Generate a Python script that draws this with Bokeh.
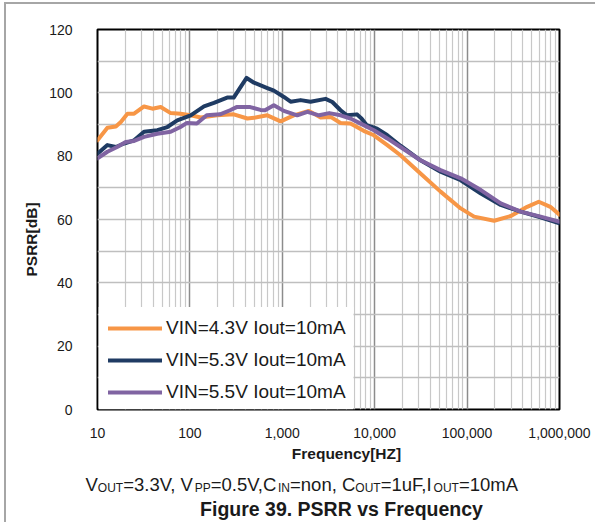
from bokeh.plotting import figure
from bokeh.models import Range1d, FixedTicker, Title, BoxAnnotation, InlineStyleSheet
from bokeh.layouts import column
from bokeh.core.properties import value
from bokeh.embed import file_html
from bokeh.resources import INLINE

# ---------------- data ----------------
f_43 = [10, 12.8, 15.8, 17.9, 21.1, 24.9, 31.9, 39.3, 48.3, 62, 79, 102, 131, 197,
        298, 419, 494, 688, 960, 1330, 1940, 2600, 3330, 4270, 5470, 7600, 9800,
        13700, 19000, 31300, 51600, 85300, 119000, 196000, 297000, 447000, 596000,
        796000, 1000000]
v_43 = [85.0, 89.0, 89.4, 90.8, 93.4, 93.4, 95.7, 95.0, 95.5, 93.6, 93.4, 92.9, 92.2, 92.9,
        93.2, 91.9, 92.1, 92.9, 91.0, 92.9, 94.3, 92.2, 92.4, 90.5, 90.3, 88.0, 86.6,
        83.5, 80.3, 74.5, 68.8, 63.5, 60.9, 59.6, 61.1, 64.0, 65.6,
        64.0, 61.5]

f_53 = [10, 12.8, 15.8, 19.4, 24.9, 31.9, 44.4, 57, 73, 102, 142, 182, 253, 298, 353,
        411, 494, 688, 810, 1040, 1230, 1580, 2020, 2940, 3480, 4270, 5000, 6400,
        7200, 8200, 10600, 13700, 19000, 31300, 51600, 85300, 141000, 231000,
        380000, 624000, 1000000]
v_53 = [80.8, 83.5, 82.9, 84.0, 85.0, 87.7, 88.2, 89.2, 91.3, 92.9, 95.7, 96.8, 98.5, 98.5, 101.8,
        104.7, 103.2, 101.5, 100.7, 98.7, 97.2, 97.7, 97.2, 98.1, 97.1, 94.5, 92.9, 93.2,
        91.9, 89.8, 88.7, 86.6, 83.3, 78.7, 75.1, 72.4, 68.2, 64.6,
        62.5, 60.7, 58.8]

f_55 = [10, 12.8, 16.3, 20.2, 24.9, 31.9, 44.4, 62, 79, 93, 119, 152, 212, 272, 320,
        450, 580, 650, 810, 1040, 1450, 1870, 2500, 3220, 4270, 5470, 7600, 9800,
        13700, 19000, 31300, 51600, 85300, 141000, 231000, 380000, 624000, 1000000]
v_55 = [79.3, 81.4, 82.9, 84.5, 84.8, 86.1, 87.1, 87.7, 89.2, 90.5, 90.3, 92.9, 93.2, 94.5, 95.5,
        95.5, 94.6, 94.5, 96.1, 94.3, 92.9, 94.0, 92.9, 93.6, 92.9, 91.9, 89.8, 88.2,
        85.6, 82.9, 78.7, 75.6, 73.0, 69.3, 65.1, 62.5, 60.9, 59.3]

series_names = ["VIN=4.3V Iout=10mA", "VIN=5.3V Iout=10mA", "VIN=5.5V Iout=10mA"]
series_colors = ["#F79646", "#1F3B63", "#8064A2"]

x_ticks = [10, 100, 1000, 10000, 100000, 1000000]
x_tick_labels = ["10", "100", "1,000", "10,000", "100,000", "1,000,000"]
y_ticks = [0, 20, 40, 60, 80, 100, 120]
y_minor = [10, 30, 50, 70, 90, 110]

x_title = "Frequency[HZ]"
y_title = "PSRR[dB]"
fig_title = "Figure 39. PSRR vs Frequency"
# caption pieces: (text, is_subscript)
caption = [("V", False), ("OUT", True), ("=3.3V, V", False), ("PP", True),
           ("=0.5V,C", False), ("IN", True), ("=non, C", False), ("OUT", True),
           ("=1uF,I", False), ("OUT", True), ("=10mA", False)]

# ---------------- main chart ----------------
FONT = "Liberation Sans"
TXT = "#1a1a1a"
W = 595
H1 = 440
ML, MR, MT, MB = 97, W - 559, 29, 30

p = figure(width=W, height=H1, x_axis_type="log", output_backend="svg",
           toolbar_location=None, x_range=Range1d(10, 1000000), y_range=Range1d(0, 120),
           min_border_left=ML, min_border_right=MR, min_border_top=MT, min_border_bottom=MB)
p.frame_align = False
p.background_fill_color = "white"
p.border_fill_color = "white"
p.outline_line_color = "black"
p.outline_line_width = 2

minor_x = [m * d for d in x_ticks[:-1] for m in range(2, 10)]
p.xaxis.ticker = FixedTicker(ticks=x_ticks, minor_ticks=minor_x)
p.xaxis.major_label_overrides = {t: l for t, l in zip(x_ticks, x_tick_labels)}
p.yaxis.ticker = FixedTicker(ticks=y_ticks, minor_ticks=y_minor)

for ax in (p.xaxis, p.yaxis):
    ax.axis_line_color = None
    ax.major_tick_line_color = None
    ax.minor_tick_line_color = None
    ax.major_label_text_font = FONT
    ax.major_label_text_font_size = "14px"
    ax.major_label_text_color = TXT
p.xaxis.major_label_standoff = 12
p.yaxis.major_label_standoff = 19

p.xgrid.grid_line_color = "#8c8c8c"
p.xgrid.grid_line_width = 1.5
p.xgrid.minor_grid_line_color = "#c8c8c8"
p.xgrid.minor_grid_line_width = 1.2
p.ygrid.grid_line_color = "#bfbfbf"
p.ygrid.grid_line_width = 1.5
p.ygrid.minor_grid_line_color = "#bfbfbf"
p.ygrid.minor_grid_line_width = 1.5

# white panel behind the legend (hides the grid there)
p.add_layout(BoxAnnotation(left=10.3, right=5900, bottom=0, top=32.4, fill_color="white",
                           fill_alpha=1.0, line_color=None, level="underlay"))

for fx, vy, name, col in zip([f_43, f_53, f_55], [v_43, v_53, v_55], series_names, series_colors):
    p.line(fx, vy, line_color=col, line_width=4, line_join="round", line_cap="round",
           legend_label=name)

lg = p.legend[0]
lg.location = (11, 6)
lg.margin = 0
lg.padding = 9
lg.spacing = 10
lg.glyph_width = 54
lg.glyph_height = 20
lg.label_height = 20
lg.label_standoff = 4
lg.label_text_font = FONT
lg.label_text_font_size = "19px"
lg.label_text_color = TXT
lg.border_line_color = None
lg.background_fill_alpha = 0.0

p.add_layout(Title(text=y_title, align="left", offset=133, standoff=14,
                   text_font=FONT, text_font_size="15.5px", text_font_style="bold",
                   text_color=TXT), "left")

# ---------------- caption strip (pixel coordinates, y downward) ----------------
H2 = 82
Y0 = H1 + 6  # effective page y of the strip's origin
q = figure(width=W, height=H2, x_range=Range1d(0, W), y_range=Range1d(H2, 0),
           output_backend="svg", toolbar_location=None, min_border=0,
           x_axis_location=None, y_axis_location=None)
q.frame_align = False
q.outline_line_color = None
q.background_fill_color = "white"
q.border_fill_color = "white"
q.xgrid.visible = False
q.ygrid.visible = False

q.text(x=[346], y=[459 - Y0], text=[x_title], text_font=value(FONT),
       text_font_size=value("15.5px"), text_font_style="bold", text_align="center",
       text_baseline="alphabetic", text_color=TXT)

# Arial / Liberation Sans advance widths (per 1000 em) for caption layout
AW = {"V": 667, "O": 778, "U": 722, "T": 611, "=": 584, "3": 556, ".": 278, ",": 278,
      " ": 278, "P": 667, "0": 556, "5": 556, "C": 722, "I": 278, "N": 722, "n": 556,
      "o": 556, "1": 556, "u": 556, "F": 611, "m": 833, "A": 667}
main_size, sub_size = 18.5, 12.0
cx = 85.0
base = 490.0 - Y0
mx, my, mt, sxs, sys_, st = [], [], [], [], [], []
for txt, sub in caption:
    if sub:
        sxs.append(cx); sys_.append(base + 3); st.append(txt)
        size = sub_size
    else:
        mx.append(cx); my.append(base); mt.append(txt)
        size = main_size
    cx += sum(AW.get(c, 556) for c in txt) / 1000.0 * size

q.text(x=mx, y=my, text=mt, text_font=value(FONT), text_font_size=value(f"{main_size}px"),
       text_align="left", text_baseline="alphabetic", text_color=TXT)
q.text(x=sxs, y=sys_, text=st, text_font=value(FONT), text_font_size=value(f"{sub_size}px"),
       text_align="left", text_baseline="alphabetic", text_color=TXT)
q.text(x=[341], y=[514 - Y0], text=[fig_title], text_font=value(FONT),
       text_font_size=value("19.5px"), text_font_style="bold", text_align="center",
       text_baseline="alphabetic", text_color=TXT)

layout = column(p, q, spacing=0)
# thin grey frame of the original figure (left and top edges)
layout.stylesheets = [InlineStyleSheet(css=(
    ":host { position: relative; }"
    ":host::after { content: ''; position: absolute; left: 4px; top: 2px; right: 0px;"
    " bottom: 0px; border-left: 2.5px solid #a6a6a6; border-top: 2.5px solid #a6a6a6;"
    " pointer-events: none; z-index: 10; }"))]
open("out.html", "w").write(file_html(layout, INLINE))
